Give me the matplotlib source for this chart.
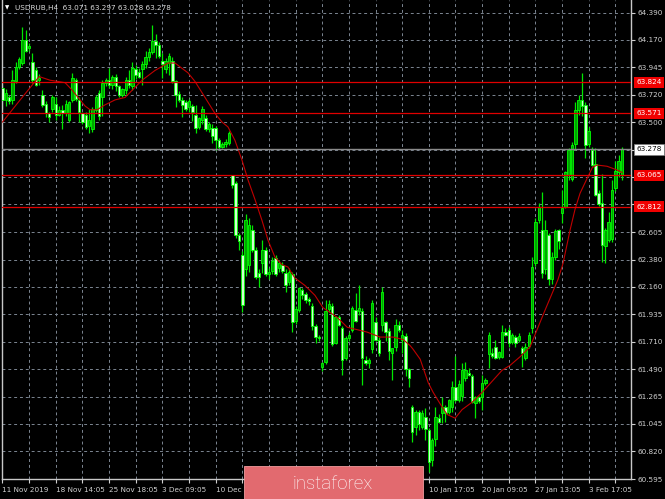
import numpy as np
import matplotlib
matplotlib.use('Agg')
import matplotlib.pyplot as plt
from matplotlib.patches import Rectangle
import matplotlib.transforms as mtransforms

# USDRUB H4 candles
opens = [63.78, 63.68, 63.70, 63.68, 63.83, 63.95, 63.98, 64.17, 64.10, 63.99,
         63.92, 63.84, 63.72, 63.65, 63.57, 63.61, 63.65, 63.56, 63.60, 63.57,
         63.52, 63.68, 63.84, 63.68, 63.57, 63.56, 63.47, 63.44, 63.60, 63.74,
         63.70, 63.82, 63.84, 63.80, 63.87, 63.79, 63.72, 63.76, 63.84, 63.79,
         63.93, 63.91, 63.93, 63.97, 64.03, 64.07, 64.16, 64.13, 64.00, 63.93,
         63.98, 64.00, 63.83, 63.73, 63.68, 63.66, 63.62, 63.63, 63.56, 63.46,
         63.52, 63.53, 63.44, 63.45, 63.45, 63.35, 63.30, 63.32, 63.33, 63.07,
         63.00, 62.58, 62.42, 62.30, 62.34, 62.62, 62.46, 62.27, 62.35, 62.46,
         62.26, 62.29, 62.39, 62.31, 62.34, 62.27, 62.20, 62.26, 61.88, 61.97,
         62.13, 62.10, 62.06, 62.00, 61.84, 61.75, 61.51, 61.55, 61.98, 62.00,
         61.70, 61.91, 61.82, 61.58, 61.74, 61.81, 61.97, 61.96, 61.96, 61.56,
         61.54, 61.65, 61.87, 61.73, 61.85, 61.87, 61.80, 61.62, 61.67, 61.85,
         61.73, 61.76, 61.49, 61.18, 61.02, 61.14, 61.02, 61.10, 60.99, 60.75,
         60.92, 61.09, 61.13, 61.18, 61.14, 61.18, 61.34, 61.24, 61.27, 61.42,
         61.46, 61.43, 61.21, 61.26, 61.26, 61.38, 61.61, 61.62, 61.67, 61.59,
         61.59, 61.79, 61.81, 61.71, 61.75, 61.73, 61.66, 61.58, 61.68, 61.82,
         62.35, 62.70, 62.62, 62.30, 62.58, 62.22, 62.40, 62.62, 62.76, 62.81,
         63.07, 63.04, 63.32, 63.60, 63.68, 63.64, 63.32, 63.27, 63.16, 62.92,
         62.84, 62.49, 62.54, 62.55, 62.96, 63.09, 63.071]
highs = [63.80, 63.77, 63.72, 63.92, 63.99, 64.03, 64.27, 64.25, 64.14, 64.06,
         63.95, 63.89, 63.76, 63.67, 63.58, 63.72, 63.70, 63.63, 63.64, 63.68,
         63.67, 63.90, 63.86, 63.70, 63.58, 63.58, 63.61, 63.62, 63.72, 63.76,
         63.84, 63.86, 63.94, 63.88, 63.89, 63.80, 63.78, 63.87, 63.92, 63.99,
         63.96, 63.94, 64.00, 64.08, 64.10, 64.29, 64.22, 64.15, 64.06, 64.02,
         64.06, 64.03, 63.84, 63.75, 63.70, 63.68, 63.69, 63.65, 63.64, 63.54,
         63.63, 63.56, 63.50, 63.48, 63.47, 63.37, 63.34, 63.36, 63.43, 63.07,
         63.02, 62.60, 62.45, 62.75, 62.72, 62.66, 62.48, 62.30, 62.54, 62.48,
         62.31, 62.40, 62.42, 62.37, 62.36, 62.30, 62.31, 62.28, 62.00, 62.16,
         62.15, 62.12, 62.08, 62.03, 61.86, 61.77, 61.55, 62.05, 62.05, 62.03,
         61.92, 61.93, 61.84, 61.76, 61.79, 62.00, 62.11, 62.17, 61.99, 61.60,
         61.58, 62.05, 61.91, 61.75, 62.16, 61.88, 61.82, 61.66, 61.90, 61.88,
         61.81, 61.78, 61.50, 61.20, 61.16, 61.16, 61.16, 61.17, 61.01, 60.93,
         61.18, 61.12, 61.26, 61.20, 61.25, 61.39, 61.60, 61.40, 61.54, 61.55,
         61.50, 61.45, 61.27, 61.27, 61.44, 61.42, 61.79, 61.66, 61.73, 61.64,
         61.85, 61.82, 61.83, 61.78, 61.77, 61.78, 61.68, 61.70, 61.79, 62.40,
         62.72, 62.84, 62.93, 62.70, 62.60, 62.44, 62.63, 62.63, 62.95, 63.10,
         63.29, 63.34, 63.66, 63.72, 63.90, 63.66, 63.46, 63.30, 63.29, 62.95,
         63.08, 62.64, 62.77, 63.03, 63.18, 63.23, 63.297]
lows = [63.61, 63.63, 63.65, 63.65, 63.82, 63.93, 63.96, 64.07, 64.08, 63.82,
        63.79, 63.80, 63.62, 63.54, 63.50, 63.58, 63.52, 63.55, 63.44, 63.55,
        63.50, 63.66, 63.67, 63.50, 63.48, 63.44, 63.41, 63.42, 63.58, 63.52,
        63.55, 63.79, 63.78, 63.77, 63.75, 63.70, 63.70, 63.73, 63.78, 63.76,
        63.85, 63.86, 63.80, 63.94, 64.00, 64.05, 64.02, 64.02, 63.86, 63.90,
        63.88, 63.82, 63.62, 63.66, 63.54, 63.59, 63.58, 63.51, 63.41, 63.44,
        63.48, 63.43, 63.42, 63.33, 63.27, 63.28, 63.29, 63.30, 63.31, 62.96,
        62.56, 62.46, 61.95, 62.25, 62.28, 62.44, 62.22, 62.16, 62.27, 62.25,
        62.22, 62.26, 62.25, 62.28, 62.27, 62.12, 62.17, 61.79, 61.86, 61.95,
        62.06, 62.03, 62.01, 61.81, 61.70, 61.72, 61.47, 61.53, 61.95, 61.68,
        61.69, 61.84, 61.44, 61.56, 61.72, 61.79, 61.87, 61.93, 61.36, 61.52,
        61.50, 61.62, 61.72, 61.60, 61.80, 61.72, 61.56, 61.40, 61.64, 61.79,
        61.62, 61.43, 61.34, 60.90, 60.95, 60.99, 61.00, 60.91, 60.65, 60.70,
        60.86, 61.05, 61.05, 61.06, 61.12, 61.14, 61.22, 61.22, 61.23, 61.39,
        61.43, 61.21, 61.09, 61.21, 61.16, 61.36, 61.50, 61.58, 61.57, 61.57,
        61.58, 61.76, 61.67, 61.69, 61.67, 61.71, 61.51, 61.56, 61.66, 61.78,
        62.33, 62.68, 62.23, 62.26, 62.17, 62.18, 62.38, 62.47, 62.68, 62.80,
        63.03, 63.02, 63.27, 63.56, 63.55, 63.21, 63.30, 63.14, 62.90, 62.82,
        62.36, 62.35, 62.52, 62.52, 62.94, 63.05, 63.028]
closes = [63.68, 63.74, 63.67, 63.84, 63.95, 64.01, 64.17, 64.08, 64.12, 63.84,
          63.80, 63.86, 63.64, 63.57, 63.54, 63.70, 63.56, 63.60, 63.57, 63.65,
          63.66, 63.86, 63.69, 63.58, 63.50, 63.46, 63.52, 63.61, 63.70, 63.55,
          63.82, 63.84, 63.80, 63.87, 63.79, 63.72, 63.77, 63.84, 63.80, 63.94,
          63.88, 63.87, 63.97, 64.03, 64.07, 64.16, 64.13, 64.04, 63.97, 64.00,
          64.04, 63.83, 63.72, 63.68, 63.64, 63.61, 63.67, 63.58, 63.45, 63.53,
          63.61, 63.44, 63.48, 63.39, 63.35, 63.30, 63.32, 63.34, 63.41, 62.99,
          62.58, 62.53, 62.01, 62.70, 62.66, 62.46, 62.24, 62.24, 62.46, 62.26,
          62.28, 62.37, 62.26, 62.35, 62.29, 62.17, 62.28, 61.87, 61.98, 62.15,
          62.09, 62.05, 62.04, 61.84, 61.75, 61.74, 61.54, 61.96, 62.02, 61.69,
          61.91, 61.85, 61.56, 61.74, 61.77, 61.99, 61.88, 61.99, 61.58, 61.54,
          61.56, 62.03, 61.73, 61.62, 62.12, 61.79, 61.64, 61.66, 61.85, 61.81,
          61.77, 61.49, 61.42, 60.98, 61.14, 61.04, 61.13, 61.00, 60.73, 60.91,
          61.10, 61.06, 61.18, 61.13, 61.24, 61.34, 61.24, 61.37, 61.48, 61.48,
          61.44, 61.22, 61.26, 61.23, 61.38, 61.40, 61.77, 61.60, 61.58, 61.63,
          61.79, 61.77, 61.70, 61.77, 61.70, 61.76, 61.62, 61.67, 61.77, 62.32,
          62.69, 62.81, 62.27, 62.62, 62.22, 62.40, 62.61, 62.53, 62.80, 63.09,
          63.27, 63.31, 63.60, 63.68, 63.63, 63.31, 63.43, 63.15, 62.91, 62.83,
          62.50, 62.62, 62.69, 62.95, 63.10, 63.18, 63.278]

# moving average (red line), read at these bar positions
ma_bar = [0, 5.3, 9.8, 11, 14.3, 16.7, 18.8, 20.9, 22.7, 24.8, 26.3, 28.4, 30.8,
          33.8, 36.8, 41.9, 45.8, 49.7, 51.8, 55.7, 57.8, 60.8, 63.8, 65.9, 67.7,
          69.8, 71.9, 73.7, 75.8, 77.9, 79.7, 81.8, 83.9, 85.7, 87.8, 90.8, 93.8,
          96.2, 100.5, 103.5, 106.5, 109.5, 113.4, 117.3, 120.3, 122.4, 123.3,
          125.4, 127.8, 129.3, 132, 133.5, 135.9, 138, 141, 144, 147, 150, 152.4,
          155.4, 158.4, 162.6, 166.8, 168.3, 170.4, 171.9, 173.4, 175.5, 177.1,
          178.5, 181.5, 184.5, 186]
ma_val = [63.50, 63.68, 63.83, 63.87, 63.84, 63.83, 63.82, 63.76, 63.70, 63.63,
          63.60, 63.60, 63.64, 63.68, 63.70, 63.84, 63.92, 63.98, 63.98, 63.90,
          63.83, 63.70, 63.57, 63.50, 63.46, 63.35, 63.19, 63.03, 62.87, 62.70,
          62.54, 62.40, 62.34, 62.32, 62.23, 62.17, 62.09, 61.99, 61.91, 61.83,
          61.81, 61.79, 61.75, 61.75, 61.73, 61.68, 61.65, 61.57, 61.38, 61.30,
          61.18, 61.12, 61.09, 61.16, 61.22, 61.30, 61.39, 61.48, 61.52, 61.59,
          61.67, 61.95, 62.22, 62.35, 62.62, 62.79, 62.92, 63.04, 63.13, 63.15,
          63.14, 63.11, 63.09]

red_levels = [63.824, 63.571, 63.065, 62.812]
last_price = 63.278

price_ticks = [64.390, 64.170, 63.945, 63.720, 63.500, 63.275, 63.055, 62.830,
               62.605, 62.380, 62.160, 61.935, 61.710, 61.490, 61.265, 61.045,
               60.820, 60.595]
hidden_ticks = [63.275, 63.055, 62.830]

date_bars = [0, 16, 32, 48, 64, 128, 144, 160, 176]
date_labels = ['11 Nov 2019', '18 Nov 14:05', '25 Nov 18:05', '3 Dec 09:05',
               '10 Dec 13:05', '10 Jan 17:05', '20 Jan 09:05', '27 Jan 13:05',
               '3 Feb 17:05']

o = np.array(opens); h = np.array(highs); l = np.array(lows); c = np.array(closes)
x = np.arange(len(o))

W, H = 665, 499
fig = plt.figure(figsize=(W / 100, H / 100), dpi=100, facecolor='black')
ax = fig.add_axes([2 / W, 20 / H, 629 / W, 479 / H], facecolor='black')
ax.set_xlim(-0.15, 188.7)
ax.set_ylim(60.597, 64.493)

gridc = '#7c8692'
ax.set_axisbelow(True)
for p in price_ticks:
    ax.axhline(p, color=gridc, lw=0.7, ls=(0, (3, 3)), zorder=0)
for b in range(0, 185, 8):
    ax.axvline(b, color=gridc, lw=0.7, ls=(0, (3, 3)), zorder=0)

# candles
up = c >= o
ax.vlines(x, l, h, color='#00e800', lw=0.9, zorder=2)
body_lo = np.minimum(o, c)
body_h = np.maximum(np.abs(c - o), 0.006)
face = np.where(up, '#00a400', '#d2ffd2')
ax.bar(x, body_h, bottom=body_lo, width=0.74, color=face,
       edgecolor='#00ff00', linewidth=0.6, zorder=3)

# moving average
ax.plot(ma_bar, ma_val, color='#c00000', lw=0.8, zorder=4)

# levels
for lv in red_levels:
    ax.axhline(lv, color='#e00000', lw=0.9, zorder=4)
ax.axhline(last_price, color='#8a8a8a', lw=1.0, zorder=4)

# axes styling
for s in ['left', 'right', 'bottom']:
    ax.spines[s].set_color('#c8c8c8')
    ax.spines[s].set_linewidth(1)
ax.spines['top'].set_visible(False)

ax.yaxis.tick_right()
ax.set_yticks(price_ticks)
ax.set_yticklabels(['' if p in hidden_ticks else f'{p:.3f}' for p in price_ticks])
ax.tick_params(axis='y', colors='#d0d0d0', labelsize=5.2, length=3, pad=2, width=0.8)

ax.set_xticks(range(0, 185, 8))
xl = []
for b in range(0, 185, 8):
    xl.append(date_labels[date_bars.index(b)] if b in date_bars else '')
ax.set_xticklabels(xl)
ax.tick_params(axis='x', colors='#d0d0d0', labelsize=5.2, length=3, pad=2.5, width=0.8)
for t in ax.get_xticklabels():
    t.set_ha('left')

# price boxes on the right
trans = mtransforms.blended_transform_factory(ax.transAxes, ax.transData)
for lv in red_levels:
    ax.text(1.008, lv, f'{lv:.3f}', transform=trans, ha='left', va='center',
            fontsize=5.2, color='white', clip_on=False, zorder=6,
            bbox=dict(boxstyle='square,pad=0.32', fc='#f00000', ec='none'))
ax.text(1.008, last_price, f'{last_price:.3f}', transform=trans, ha='left',
        va='center', fontsize=5.2, color='black', clip_on=False, zorder=6,
        bbox=dict(boxstyle='square,pad=0.32', fc='white', ec='#808080', lw=0.5))

# title
fig.text(5 / W, 1 - 8 / H, '▼', fontsize=4, color='white', va='center')
fig.text(15 / W, 1 - 8 / H,
         f'USDRUB,H4  {opens[-1]:.3f} {highs[-1]:.3f} {lows[-1]:.3f} {closes[-1]:.3f}',
         fontsize=5.2, color='#dcdcdc', va='center')

# logo
fig.patches.append(Rectangle((244 / W, 0), 179 / W, 33 / H, transform=fig.transFigure,
                             fc='#e26a6f', ec='#f09a9c', lw=0.6, zorder=10))
fig.text(333 / W, (H - 484) / H, 'instaforex', fontsize=13.5, color='white',
         family='Roboto', fontweight='light', ha='center', va='center', zorder=11)

fig.savefig('out.png', dpi=100, facecolor='black')
